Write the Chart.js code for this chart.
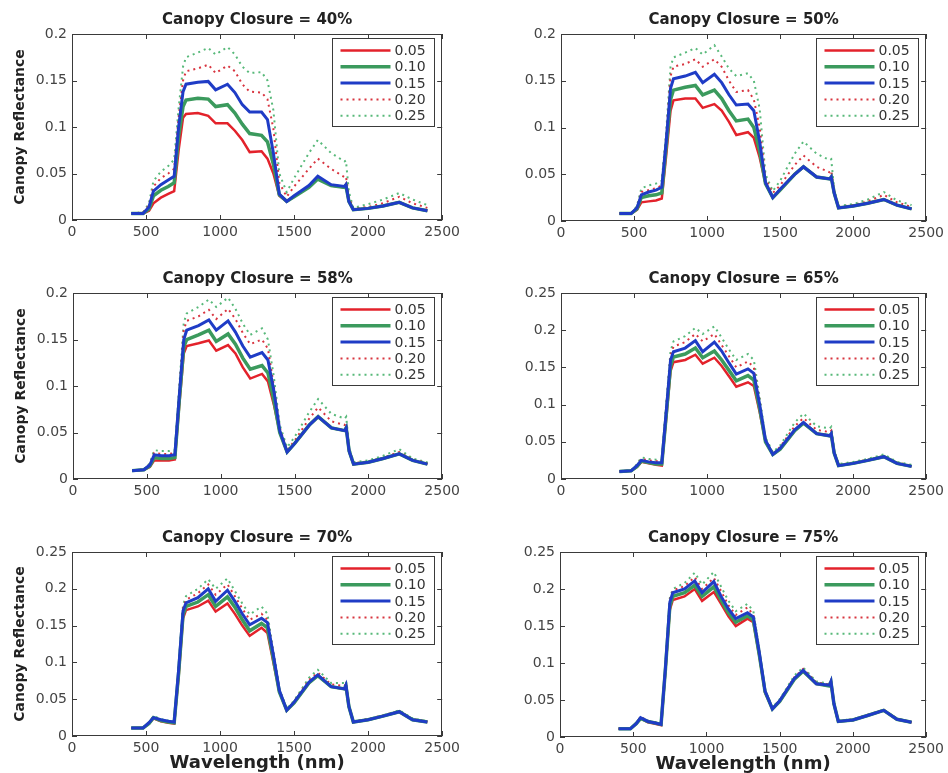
<!DOCTYPE html>
<html>
<head>
<meta charset="utf-8">
<script src="https://cdn.jsdelivr.net/npm/chart.js@4.4.0/dist/chart.umd.min.js"></script>
<style>
  html, body { margin: 0; padding: 0; background: #fff; width: 948px; height: 773px; overflow: hidden; }
  canvas { position: absolute; }
</style>
</head>
<body>
<script>
// wavelength samples (nm)
const wavelengths = [400, 480, 520, 550, 600, 650, 690, 720, 750, 770, 850, 920, 970, 1050, 1100, 1150, 1200, 1280, 1320, 1360, 1400, 1450, 1500, 1600, 1660, 1750, 1840, 1850, 1870, 1900, 2000, 2100, 2210, 2300, 2400];

const seriesLabels = ['0.05', '0.10', '0.15', '0.20', '0.25'];
const xTicks = [0, 500, 1000, 1500, 2000, 2500];
const yTicksLow = [0, 0.05, 0.1, 0.15, 0.2];
const yTicksHigh = [0, 0.05, 0.1, 0.15, 0.2, 0.25];

// Canopy closure = 40%
const cc40_05 = [0.007,0.007,0.010,0.018,0.024,0.028,0.031,0.075,0.110,0.114,0.115,0.112,0.104,0.104,0.096,0.086,0.073,0.074,0.066,0.050,0.026,0.020,0.025,0.036,0.046,0.037,0.035,0.038,0.020,0.011,0.0125,0.015,0.019,0.013,0.010];
const cc40_10 = [0.007,0.007,0.012,0.026,0.032,0.036,0.040,0.090,0.122,0.129,0.131,0.130,0.122,0.124,0.115,0.103,0.093,0.091,0.084,0.060,0.027,0.020,0.025,0.035,0.044,0.037,0.035,0.037,0.020,0.011,0.0125,0.015,0.019,0.013,0.010];
const cc40_15 = [0.007,0.007,0.014,0.031,0.038,0.043,0.047,0.100,0.138,0.146,0.148,0.149,0.140,0.146,0.137,0.124,0.116,0.116,0.108,0.072,0.028,0.020,0.026,0.037,0.047,0.038,0.036,0.038,0.020,0.011,0.0125,0.015,0.019,0.013,0.010];
const cc40_20 = [0.007,0.008,0.016,0.036,0.045,0.050,0.055,0.110,0.150,0.160,0.163,0.167,0.158,0.166,0.160,0.146,0.138,0.137,0.130,0.098,0.040,0.025,0.036,0.055,0.066,0.055,0.046,0.047,0.025,0.012,0.014,0.018,0.025,0.018,0.013];
const cc40_25 = [0.007,0.008,0.018,0.042,0.052,0.058,0.065,0.120,0.165,0.175,0.180,0.185,0.178,0.186,0.178,0.165,0.158,0.159,0.150,0.118,0.050,0.030,0.045,0.072,0.086,0.072,0.063,0.064,0.030,0.013,0.017,0.022,0.029,0.022,0.016];

// Canopy closure = 50%
const cc50_05 = [0.008,0.008,0.012,0.020,0.021,0.022,0.024,0.070,0.118,0.129,0.131,0.131,0.121,0.125,0.118,0.106,0.092,0.095,0.089,0.068,0.040,0.025,0.033,0.050,0.058,0.047,0.045,0.047,0.030,0.014,0.016,0.019,0.023,0.017,0.013];
const cc50_10 = [0.008,0.008,0.013,0.025,0.027,0.028,0.030,0.080,0.130,0.140,0.143,0.145,0.135,0.140,0.131,0.118,0.107,0.109,0.100,0.075,0.040,0.025,0.033,0.050,0.058,0.047,0.045,0.047,0.030,0.014,0.016,0.019,0.023,0.017,0.013];
const cc50_15 = [0.008,0.008,0.014,0.028,0.031,0.033,0.036,0.085,0.142,0.152,0.155,0.159,0.148,0.157,0.148,0.135,0.124,0.125,0.118,0.085,0.041,0.025,0.034,0.050,0.058,0.047,0.045,0.047,0.030,0.014,0.016,0.019,0.023,0.017,0.013];
const cc50_20 = [0.008,0.008,0.015,0.031,0.033,0.035,0.038,0.090,0.155,0.165,0.168,0.173,0.165,0.173,0.165,0.150,0.138,0.140,0.130,0.100,0.045,0.030,0.038,0.060,0.070,0.058,0.052,0.054,0.032,0.015,0.017,0.021,0.028,0.020,0.015];
const cc50_25 = [0.008,0.008,0.016,0.035,0.038,0.040,0.043,0.095,0.165,0.175,0.180,0.185,0.178,0.188,0.176,0.163,0.155,0.158,0.150,0.120,0.050,0.032,0.043,0.072,0.085,0.072,0.065,0.066,0.034,0.016,0.018,0.023,0.031,0.022,0.017];

// Canopy closure = 58%
const cc58_05 = [0.009,0.010,0.013,0.020,0.020,0.020,0.021,0.080,0.135,0.143,0.146,0.149,0.138,0.144,0.135,0.120,0.108,0.113,0.105,0.080,0.050,0.029,0.038,0.058,0.067,0.055,0.052,0.055,0.030,0.016,0.018,0.022,0.027,0.020,0.016];
const cc58_10 = [0.009,0.010,0.014,0.023,0.022,0.022,0.023,0.085,0.142,0.150,0.155,0.160,0.148,0.156,0.145,0.130,0.118,0.122,0.114,0.085,0.050,0.029,0.038,0.058,0.067,0.055,0.052,0.055,0.030,0.016,0.018,0.022,0.027,0.020,0.016];
const cc58_15 = [0.009,0.010,0.015,0.026,0.025,0.025,0.026,0.090,0.150,0.160,0.165,0.171,0.160,0.170,0.158,0.143,0.131,0.136,0.128,0.095,0.052,0.029,0.038,0.058,0.067,0.055,0.052,0.055,0.030,0.016,0.018,0.022,0.027,0.020,0.016];
const cc58_20 = [0.009,0.010,0.016,0.028,0.027,0.027,0.028,0.095,0.160,0.170,0.175,0.182,0.172,0.183,0.172,0.157,0.145,0.150,0.140,0.100,0.055,0.031,0.041,0.065,0.077,0.062,0.058,0.060,0.032,0.017,0.019,0.023,0.029,0.021,0.017];
const cc58_25 = [0.009,0.010,0.017,0.031,0.030,0.030,0.031,0.100,0.168,0.178,0.185,0.193,0.185,0.195,0.183,0.167,0.155,0.162,0.150,0.110,0.058,0.034,0.045,0.072,0.086,0.070,0.065,0.067,0.034,0.018,0.020,0.025,0.032,0.022,0.018];

// Canopy closure = 65%
const cc65_05 = [0.010,0.011,0.016,0.023,0.021,0.019,0.018,0.080,0.145,0.157,0.160,0.167,0.155,0.163,0.152,0.138,0.124,0.130,0.125,0.090,0.050,0.033,0.040,0.065,0.075,0.061,0.058,0.060,0.035,0.018,0.021,0.025,0.030,0.021,0.017];
const cc65_10 = [0.010,0.011,0.017,0.024,0.022,0.020,0.020,0.085,0.152,0.164,0.168,0.176,0.163,0.172,0.160,0.146,0.132,0.139,0.133,0.095,0.050,0.033,0.040,0.065,0.075,0.061,0.058,0.060,0.035,0.018,0.021,0.025,0.030,0.021,0.017];
const cc65_15 = [0.010,0.011,0.018,0.025,0.023,0.022,0.022,0.090,0.160,0.171,0.176,0.186,0.171,0.184,0.172,0.156,0.141,0.148,0.142,0.100,0.052,0.033,0.041,0.066,0.076,0.061,0.058,0.061,0.035,0.018,0.021,0.025,0.030,0.021,0.017];
const cc65_20 = [0.010,0.011,0.019,0.027,0.025,0.024,0.023,0.095,0.166,0.178,0.184,0.195,0.185,0.195,0.180,0.165,0.150,0.158,0.150,0.105,0.054,0.034,0.043,0.071,0.082,0.066,0.063,0.065,0.037,0.019,0.022,0.026,0.031,0.022,0.018];
const cc65_25 = [0.010,0.011,0.020,0.029,0.027,0.026,0.025,0.100,0.172,0.185,0.192,0.203,0.195,0.205,0.190,0.174,0.160,0.168,0.160,0.110,0.056,0.036,0.045,0.076,0.088,0.071,0.068,0.070,0.039,0.020,0.023,0.027,0.033,0.023,0.019];

// Canopy closure = 70%
const cc70_05 = [0.011,0.011,0.017,0.024,0.020,0.018,0.017,0.080,0.160,0.171,0.176,0.184,0.169,0.180,0.166,0.150,0.136,0.147,0.140,0.100,0.060,0.035,0.045,0.072,0.082,0.067,0.064,0.068,0.040,0.019,0.022,0.027,0.033,0.022,0.019];
const cc70_10 = [0.011,0.011,0.017,0.025,0.021,0.019,0.018,0.085,0.165,0.176,0.182,0.192,0.176,0.189,0.175,0.158,0.143,0.153,0.147,0.105,0.060,0.035,0.045,0.072,0.082,0.067,0.064,0.068,0.040,0.019,0.022,0.027,0.033,0.022,0.019];
const cc70_15 = [0.011,0.011,0.018,0.025,0.022,0.020,0.019,0.090,0.170,0.181,0.188,0.200,0.183,0.198,0.183,0.166,0.151,0.160,0.154,0.110,0.062,0.035,0.046,0.073,0.083,0.067,0.064,0.069,0.040,0.019,0.022,0.027,0.033,0.022,0.019];
const cc70_20 = [0.011,0.011,0.018,0.026,0.022,0.020,0.019,0.092,0.174,0.185,0.194,0.206,0.192,0.206,0.190,0.173,0.158,0.166,0.158,0.112,0.063,0.036,0.047,0.076,0.086,0.070,0.068,0.072,0.041,0.020,0.023,0.028,0.034,0.023,0.020];
const cc70_25 = [0.011,0.011,0.019,0.027,0.023,0.021,0.020,0.095,0.178,0.190,0.200,0.213,0.200,0.214,0.197,0.180,0.165,0.176,0.166,0.115,0.064,0.037,0.048,0.079,0.090,0.072,0.072,0.075,0.042,0.020,0.023,0.028,0.035,0.024,0.020];

// Canopy closure = 75%
const cc75_05 = [0.011,0.011,0.018,0.025,0.020,0.018,0.016,0.090,0.172,0.185,0.190,0.200,0.184,0.196,0.180,0.163,0.150,0.160,0.155,0.110,0.060,0.038,0.048,0.078,0.089,0.072,0.069,0.074,0.045,0.021,0.023,0.029,0.036,0.024,0.020];
const cc75_10 = [0.011,0.011,0.018,0.025,0.021,0.019,0.017,0.092,0.177,0.190,0.195,0.205,0.190,0.203,0.185,0.168,0.155,0.164,0.158,0.112,0.061,0.038,0.048,0.078,0.089,0.072,0.069,0.074,0.045,0.021,0.023,0.029,0.036,0.024,0.020];
const cc75_15 = [0.011,0.011,0.018,0.026,0.021,0.019,0.017,0.094,0.182,0.195,0.200,0.211,0.195,0.210,0.190,0.173,0.160,0.168,0.162,0.115,0.062,0.038,0.049,0.079,0.090,0.072,0.070,0.075,0.045,0.021,0.023,0.029,0.036,0.024,0.020];
const cc75_20 = [0.011,0.011,0.019,0.027,0.022,0.020,0.018,0.096,0.185,0.198,0.204,0.216,0.200,0.215,0.197,0.178,0.165,0.175,0.165,0.117,0.063,0.039,0.050,0.081,0.092,0.074,0.071,0.076,0.046,0.021,0.024,0.030,0.037,0.025,0.020];
const cc75_25 = [0.011,0.011,0.019,0.027,0.022,0.020,0.018,0.098,0.188,0.200,0.208,0.222,0.206,0.223,0.203,0.184,0.170,0.180,0.170,0.120,0.064,0.040,0.051,0.083,0.094,0.075,0.072,0.077,0.046,0.022,0.024,0.030,0.037,0.025,0.020];

// line styles per series (solid 0.05/0.10/0.15, dotted 0.20/0.25)
const styles = [
  { color: '#e3222b', width: 2.5, dash: [], order: 2 },
  { color: '#3b9a5d', width: 3.5, dash: [], order: 1 },
  { color: '#1f3cc6', width: 3, dash: [], order: 0 },
  { color: '#d8343f', width: 2, dash: [2, 4], order: 3 },
  { color: '#58b97a', width: 2, dash: [2, 4], order: 4 }
];

const FONT = "'DejaVu Sans', sans-serif";

// frame with inward ticks on all four sides, plus the boxed legend
const matlabBox = {
  id: 'matlabBox',
  afterDraw(chart) {
    const { ctx, chartArea: a, scales } = chart;
    ctx.save();
    ctx.strokeStyle = '#3a3a3a';
    ctx.lineWidth = 1;
    ctx.strokeRect(Math.round(a.left) + 0.5, Math.round(a.top) + 0.5, Math.round(a.width) - 1, Math.round(a.height) - 1);
    ctx.beginPath();
    scales.x.ticks.forEach(t => {
      const px = Math.round(scales.x.getPixelForValue(t.value)) + 0.5;
      ctx.moveTo(px, a.bottom); ctx.lineTo(px, a.bottom - 5);
      ctx.moveTo(px, a.top); ctx.lineTo(px, a.top + 5);
    });
    scales.y.ticks.forEach(t => {
      const py = Math.round(scales.y.getPixelForValue(t.value)) + 0.5;
      ctx.moveTo(a.left, py); ctx.lineTo(a.left + 5, py);
      ctx.moveTo(a.right, py); ctx.lineTo(a.right - 5, py);
    });
    ctx.stroke();

    // legend
    const bx = Math.round(a.right) - 109.5, by = Math.round(a.top) + 4.5, bw = 102, bh = 88;
    ctx.fillStyle = '#fff';
    ctx.fillRect(bx, by, bw, bh);
    ctx.strokeStyle = '#3a3a3a';
    ctx.strokeRect(bx, by, bw, bh);
    ctx.font = '14px ' + FONT;
    ctx.textBaseline = 'middle';
    chart.data.datasets.forEach((ds, i) => {
      const y = by + 12 + i * 16.3;
      ctx.beginPath();
      ctx.strokeStyle = ds.borderColor;
      ctx.lineWidth = ds.borderWidth;
      ctx.setLineDash(ds.borderDash);
      ctx.moveTo(bx + 8, y); ctx.lineTo(bx + 58, y);
      ctx.stroke();
      ctx.setLineDash([]);
      ctx.fillStyle = '#333';
      ctx.fillText(ds.label, bx + 62, y + 1);
    });
    ctx.restore();
  }
};

const panels = [
  { title: 'Canopy Closure = 40%', series: [cc40_05, cc40_10, cc40_15, cc40_20, cc40_25], yTicks: yTicksLow, left: 0, top: 0, w: 464, h: 242, padR: 20, ylab: true, xlab: false },
  { title: 'Canopy Closure = 50%', series: [cc50_05, cc50_10, cc50_15, cc50_20, cc50_25], yTicks: yTicksLow, left: 489, top: 0, w: 459, h: 243, padR: 17, ylab: false, xlab: false },
  { title: 'Canopy Closure = 58%', series: [cc58_05, cc58_10, cc58_15, cc58_20, cc58_25], yTicks: yTicksLow, left: 1, top: 259, w: 463, h: 242, padR: 20, ylab: true, xlab: false },
  { title: 'Canopy Closure = 65%', series: [cc65_05, cc65_10, cc65_15, cc65_20, cc65_25], yTicks: yTicksHigh, left: 489, top: 259, w: 459, h: 242, padR: 17, ylab: false, xlab: false },
  { title: 'Canopy Closure = 70%', series: [cc70_05, cc70_10, cc70_15, cc70_20, cc70_25], yTicks: yTicksHigh, left: 0, top: 518, w: 464, h: 256, padR: 20, ylab: true, xlab: true },
  { title: 'Canopy Closure = 75%', series: [cc75_05, cc75_10, cc75_15, cc75_20, cc75_25], yTicks: yTicksHigh, left: 488, top: 518, w: 460, h: 257, padR: 17, ylab: false, xlab: true }
];

panels.forEach(p => {
  const canvas = document.createElement('canvas');
  canvas.width = p.w;
  canvas.height = p.h;
  canvas.style.left = p.left + 'px';
  canvas.style.top = p.top + 'px';
  document.body.appendChild(canvas);

  const datasets = p.series.map((vals, i) => ({
    label: seriesLabels[i],
    data: wavelengths.map((w, j) => ({ x: w, y: vals[j] })),
    borderColor: styles[i].color,
    borderWidth: styles[i].width,
    borderDash: styles[i].dash,
    order: styles[i].order,
    pointRadius: 0,
    tension: 0,
    fill: false
  }));

  new Chart(canvas.getContext('2d'), {
    type: 'line',
    data: { datasets },
    options: {
      responsive: false,
      animation: false,
      layout: { padding: { left: 0, right: p.padR, top: 0, bottom: 0 } },
      scales: {
        x: {
          type: 'linear',
          min: 0, max: 2500,
          afterBuildTicks: s => { s.ticks = xTicks.map(v => ({ value: v })); },
          afterFit: s => { s.height = p.xlab ? 38 : 22; },
          grid: { display: false, drawTicks: false },
          border: { display: false },
          ticks: { color: '#444', font: { family: FONT, size: 14 }, padding: 4, maxRotation: 0, autoSkip: false, callback: v => String(v) },
          title: { display: p.xlab, text: 'Wavelength (nm)', color: '#222', font: { family: FONT, size: 18, weight: 'bold' }, padding: { top: 0, bottom: 0 } }
        },
        y: {
          min: 0, max: p.yTicks[p.yTicks.length - 1],
          afterBuildTicks: s => { s.ticks = p.yTicks.map(v => ({ value: v })); },
          afterFit: s => { s.width = 72; },
          grid: { display: false, drawTicks: false },
          border: { display: false },
          ticks: { color: '#444', font: { family: FONT, size: 14 }, padding: 5, callback: v => String(v) },
          title: { display: p.ylab, text: 'Canopy Reflectance', color: '#222', font: { family: FONT, size: 14, weight: 'bold' }, padding: { top: 12, bottom: 0 } }
        }
      },
      plugins: {
        legend: { display: false },
        tooltip: { enabled: false },
        title: {
          display: true,
          text: p.title,
          fullSize: false,
          color: '#222',
          font: { family: FONT, size: 15, weight: 'bold', lineHeight: '17px' },
          padding: { top: 12, bottom: 5 }
        }
      }
    },
    plugins: [matlabBox]
  });
});
</script>
</body>
</html>
